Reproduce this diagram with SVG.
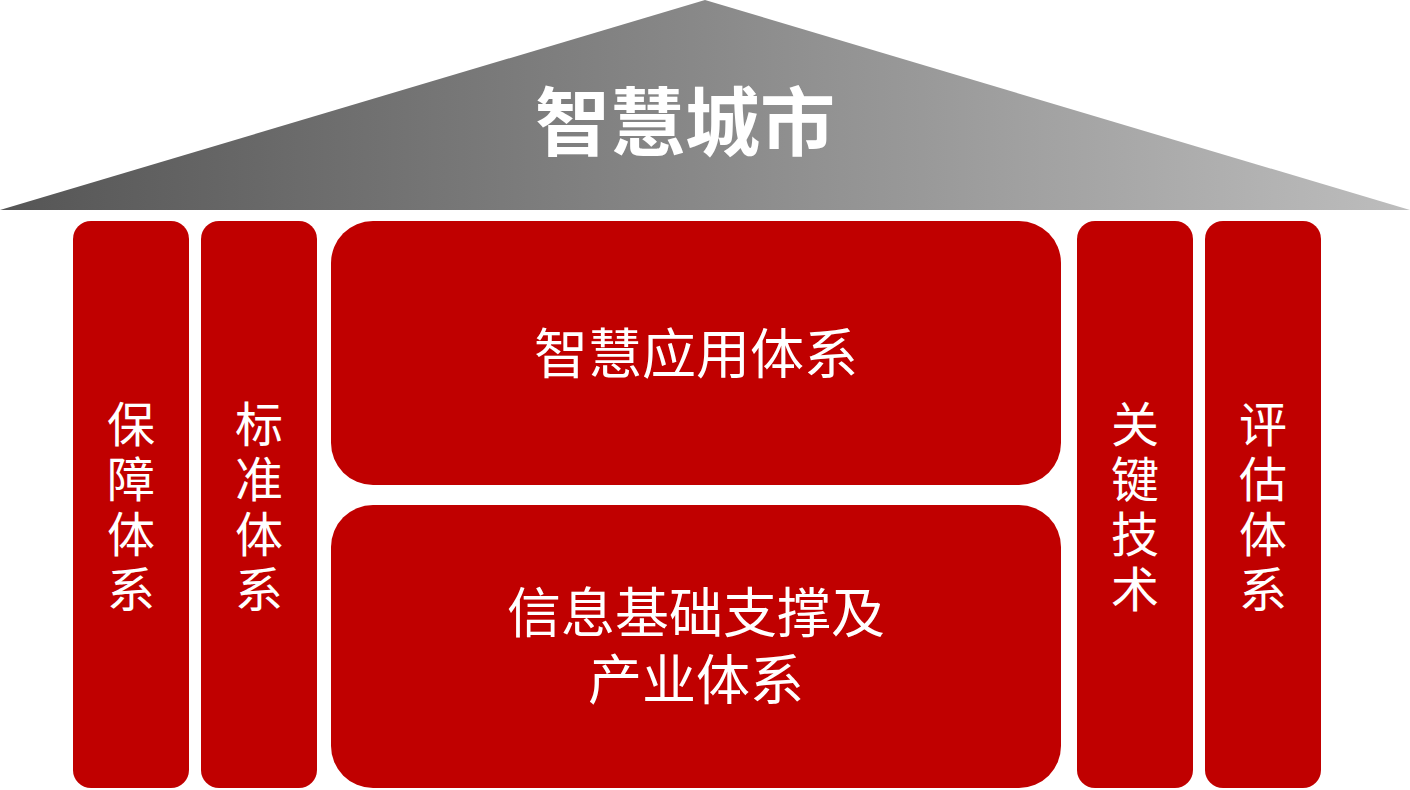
<svg xmlns="http://www.w3.org/2000/svg" width="1410" height="790" viewBox="0 0 1410 790">
<defs>
<linearGradient id="g" x1="0" y1="0" x2="1" y2="0">
<stop offset="0" stop-color="#555555"/><stop offset="1" stop-color="#bdbdbd"/>
</linearGradient>
<style>
.b{fill:#C00000}
.t{fill:#fff;font-family:"Noto Sans CJK SC","Noto Sans CJK JP",sans-serif;font-size:48px;text-anchor:middle}
.c{font-size:54px}
</style>
</defs>
<g id="roof"><polygon points="0,210 705,0 1410,210" fill="url(#g)"/>
<text x="685" y="150" class="t" style="font-size:75px;font-weight:bold">智慧城市</text></g>
<g id="p1"><rect class="b" x="73" y="221" width="116" height="567" rx="18"/>
<text class="t" x="131" y="442">保</text><text class="t" x="131" y="497">障</text><text class="t" x="131" y="552">体</text><text class="t" x="131" y="607">系</text></g>
<g id="p2"><rect class="b" x="201" y="221" width="116" height="567" rx="18"/>
<text class="t" x="259" y="442">标</text><text class="t" x="259" y="497">准</text><text class="t" x="259" y="552">体</text><text class="t" x="259" y="607">系</text></g>
<g id="app"><rect class="b" x="331" y="221" width="730" height="264" rx="42"/>
<text class="t c" x="696" y="374">智慧应用体系</text></g>
<g id="info"><rect class="b" x="331" y="505" width="730" height="283" rx="42"/>
<text class="t c" x="696" y="633">信息基础支撑及</text><text class="t c" x="696" y="700">产业体系</text></g>
<g id="p3"><rect class="b" x="1077" y="221" width="116" height="567" rx="18"/>
<text class="t" x="1135" y="442">关</text><text class="t" x="1135" y="497">键</text><text class="t" x="1135" y="552">技</text><text class="t" x="1135" y="607">术</text></g>
<g id="p4"><rect class="b" x="1205" y="221" width="116" height="567" rx="18"/>
<text class="t" x="1263" y="442">评</text><text class="t" x="1263" y="497">估</text><text class="t" x="1263" y="552">体</text><text class="t" x="1263" y="607">系</text></g>
<g id="connectors"/>
</svg>
